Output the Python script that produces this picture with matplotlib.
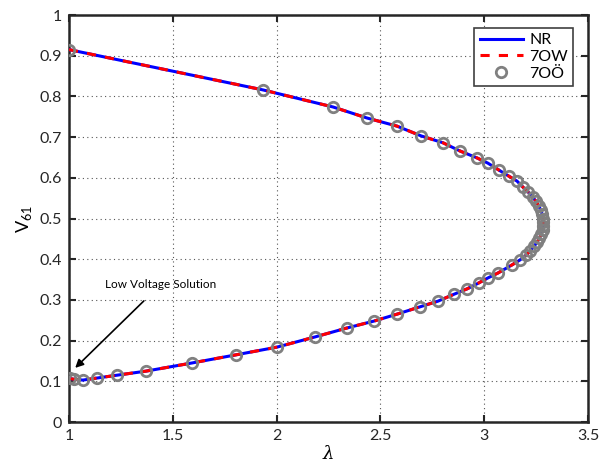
import matplotlib
matplotlib.use('Agg')
import matplotlib.pyplot as plt

plt.rcParams['font.family'] = ['Lato', 'DejaVu Sans']
plt.rcParams['mathtext.fontset'] = 'custom'
plt.rcParams['mathtext.rm'] = 'Lato'
plt.rcParams['mathtext.it'] = 'DejaVu Serif:italic'

# PV curve points (lambda, voltage), upper branch then lower branch
lam = [1.000, 1.934, 2.272, 2.435, 2.580, 2.696, 2.802, 2.883, 2.965, 3.018,
       3.071, 3.119, 3.158, 3.187, 3.212, 3.233, 3.250, 3.263, 3.273, 3.280,
       3.284, 3.285, 3.284, 3.281, 3.275, 3.266, 3.255, 3.241, 3.223, 3.202,
       3.172, 3.134, 3.066, 3.018, 2.975, 2.917, 2.855, 2.778, 2.691, 2.580,
       2.469, 2.339, 2.185, 2.002, 1.804, 1.592, 1.371, 1.231, 1.135, 1.067,
       1.024, 1.003]
volt = [0.915, 0.816, 0.774, 0.747, 0.727, 0.703, 0.686, 0.666, 0.649, 0.636,
        0.619, 0.604, 0.592, 0.577, 0.565, 0.553, 0.542, 0.531, 0.520, 0.510,
        0.500, 0.491, 0.482, 0.472, 0.462, 0.452, 0.442, 0.432, 0.421, 0.410,
        0.398, 0.386, 0.366, 0.354, 0.342, 0.327, 0.314, 0.297, 0.283, 0.265,
        0.248, 0.231, 0.209, 0.184, 0.165, 0.145, 0.125, 0.115, 0.108, 0.103,
        0.105, 0.107]

fig = plt.figure(figsize=(6.02, 4.66), dpi=100)
ax = fig.add_axes([0.1146, 0.0944, 0.8621, 0.8734])

ax.plot(lam, volt, color='#0000ff', lw=2.2, label='NR', zorder=3)
ax.plot(lam, volt, color='#ff0000', lw=2.2, ls=(0, (3, 3)), label='7OW', zorder=4)
ax.plot(lam, volt, ls='none', marker='o', ms=7.5, mfc='none', mec='#808080',
        mew=2, label='7OÖ', zorder=5)

ax.set_xlim(1, 3.5)
ax.set_ylim(0, 1)
ax.set_xticks([1, 1.5, 2, 2.5, 3, 3.5])
ax.set_xticklabels(['1', '1.5', '2', '2.5', '3', '3.5'])
ax.set_yticks([i / 10 for i in range(11)])
ax.set_yticklabels(['0'] + ['0.%d' % i for i in range(1, 10)] + ['1'])
ax.grid(True, ls=(0, (1, 3)), color='#555555', lw=0.8)
ax.tick_params(direction='in', top=True, right=True, labelsize=11.5,
               length=5, width=1.5, colors='#262626', pad=5)
for s in ax.spines.values():
    s.set_linewidth(1.8)
    s.set_color('#262626')

ax.set_xlabel(r'$\lambda$', fontsize=13, labelpad=1)
ax.set_ylabel(r'$\mathrm{V}_{61}$', fontsize=13, labelpad=4)

ax.annotate('Low Voltage Solution', xy=(1.03, 0.133), xytext=(1.44, 0.337),
            fontsize=8.5, ha='center', va='center',
            arrowprops=dict(arrowstyle='-|>', color='black', lw=1.2,
                            shrinkA=8, shrinkB=0, mutation_scale=12))

leg = ax.legend(loc='upper right', bbox_to_anchor=(0.972, 0.969), fontsize=11.5,
                fancybox=False, framealpha=1, edgecolor='#404040',
                handlelength=2.7, borderpad=0.35, labelspacing=0.15,
                handletextpad=0.4, borderaxespad=0)
leg.get_frame().set_linewidth(1.2)

fig.savefig('out.png', dpi=100)
